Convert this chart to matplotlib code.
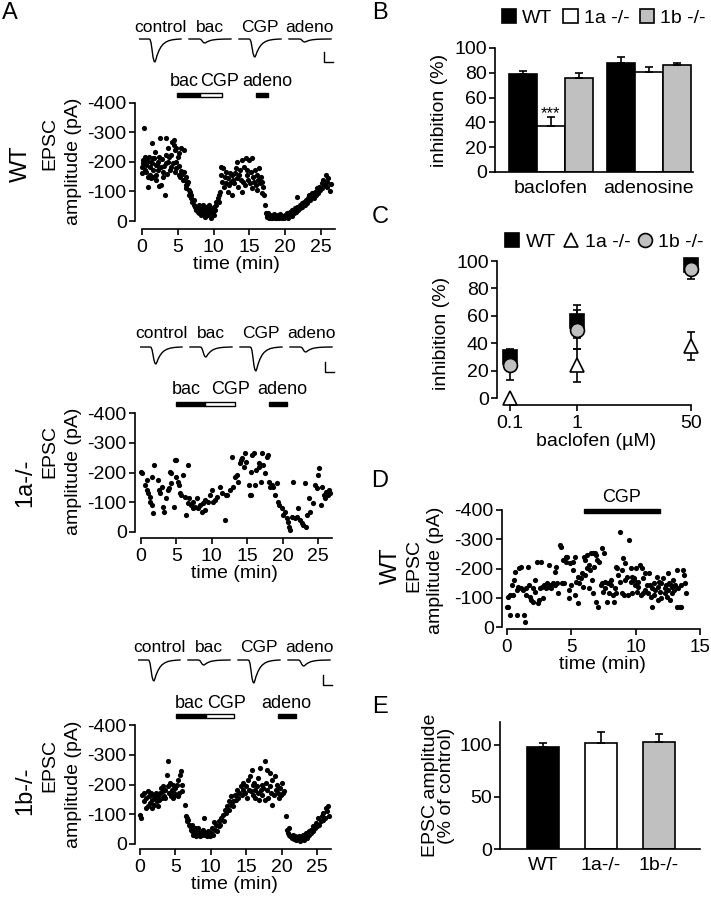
import numpy as np
import matplotlib
matplotlib.use('Agg')
import matplotlib.pyplot as plt
from matplotlib.patches import Rectangle, Patch
from matplotlib.lines import Line2D

plt.rcParams['font.family'] = ['Liberation Sans', 'DejaVu Sans']
plt.rcParams['font.size'] = 14
plt.rcParams['axes.unicode_minus'] = False

W, H = 711, 899
FS = 14

# ---------------- data ----------------
# panel A, WT time course (time in min, EPSC amplitude in pA, inward)
wt_points = [
    (0.0, 184), (0.05, 162), (0.15, 195), (0.2, 207), (0.3, 314), (0.4, 218), (0.4, 173),
    (0.5, 190), (0.6, 165), (0.65, 201), (0.75, 205), (0.8, 150), (0.9, 116), (1.0, 218),
    (1.1, 184), (1.1, 156), (1.2, 200), (1.3, 145), (1.35, 263), (1.4, 195), (1.5, 215),
    (1.55, 150), (1.6, 173), (1.7, 212), (1.8, 235), (1.9, 190), (1.95, 140), (2.0, 156),
    (2.1, 190), (2.2, 173), (2.3, 201), (2.35, 120), (2.4, 218), (2.5, 280), (2.65, 184),
    (2.7, 122), (2.8, 210), (2.9, 165), (3.0, 150), (3.1, 185), (3.2, 88), (3.3, 195),
    (3.4, 280), (3.4, 224), (3.5, 160), (3.6, 201), (3.7, 246), (3.75, 218), (3.9, 173),
    (4.0, 184), (4.1, 224), (4.2, 269), (4.3, 195), (4.4, 275), (4.5, 258), (4.6, 241),
    (4.6, 167), (4.7, 200), (4.8, 246), (4.8, 179), (5.0, 218), (5.1, 229), (5.1, 156),
    (5.2, 185), (5.3, 150), (5.4, 170), (5.5, 246), (5.6, 160), (5.7, 140), (5.8, 241),
    (5.9, 167), (6.0, 139), (6.1, 122), (6.2, 111), (6.2, 150), (6.3, 125), (6.4, 131),
    (6.5, 105), (6.6, 88), (6.7, 99), (6.8, 77), (6.9, 88), (7.0, 66), (7.2, 71), (7.3, 54),
    (7.4, 49), (7.5, 37), (7.6, 43), (7.8, 32), (7.9, 54), (8.0, 26), (8.1, 43), (8.2, 20),
    (8.3, 37), (8.5, 54), (8.6, 26), (8.7, 43), (8.8, 15), (8.9, 32), (9.0, 49), (9.2, 20),
    (9.3, 37), (9.4, 54), (9.5, 26), (9.6, 43), (9.7, 9), (9.9, 32), (10.0, 20), (10.1, 49),
    (10.2, 37), (10.3, 66), (10.4, 54), (10.6, 77), (10.7, 66), (10.75, 88), (10.9, 99),
    (11.0, 156), (11.1, 184), (11.2, 133), (11.3, 179), (11.5, 116), (11.6, 150), (11.7, 128),
    (11.8, 167), (12.0, 99), (12.0, 145), (12.2, 122), (12.3, 162), (12.4, 133), (12.5, 88),
    (12.6, 156), (12.7, 139), (12.9, 128), (13.0, 162), (13.1, 179), (13.2, 145), (13.3, 201),
    (13.4, 116), (13.5, 156), (13.7, 173), (13.8, 139), (13.9, 207), (14.0, 99), (14.1, 133),
    (14.3, 184), (14.4, 122), (14.5, 212), (14.6, 156), (14.7, 173), (14.8, 139), (14.9, 207),
    (15.1, 128), (15.2, 167), (15.3, 212), (15.4, 111), (15.5, 150), (15.7, 133), (15.8, 173),
    (15.9, 122), (16.0, 156), (16.1, 105), (16.2, 139), (16.3, 179), (16.5, 128), (16.6, 150),
    (16.7, 94), (16.8, 133), (16.9, 116), (17.1, 88), (17.2, 54), (17.3, 26), (17.4, 20),
    (17.5, 15), (17.6, 26), (17.8, 11), (17.9, 20), (18.0, 9), (18.1, 18), (18.2, 11),
    (18.4, 23), (18.6, 9), (18.7, 18), (18.8, 11), (19.0, 20), (19.2, 9), (19.3, 23),
    (19.5, 11), (19.6, 18), (19.8, 9), (20.0, 20), (20.1, 15), (20.2, 26), (20.4, 11),
    (20.6, 23), (20.7, 32), (20.9, 18), (21.0, 37), (21.2, 26), (21.3, 43), (21.5, 32),
    (21.6, 82), (21.7, 49), (21.8, 37), (22.0, 54), (22.1, 43), (22.3, 60), (22.4, 49),
    (22.6, 66), (22.7, 54), (22.9, 71), (23.0, 60), (23.2, 77), (23.3, 88), (23.5, 71),
    (23.7, 82), (23.8, 94), (24.0, 77), (24.1, 99), (24.3, 88), (24.4, 111), (24.6, 94),
    (24.7, 116), (24.9, 105), (25.1, 128), (25.2, 111), (25.3, 139), (25.5, 122), (25.7, 156),
    (25.8, 133), (25.9, 116), (26.0, 145), (26.2, 100), (26.4, 125),
]

# panel A, 1a-/- time course
ko1a_points = [
    (0.0, 203), (0.1, 197), (0.6, 158), (0.8, 175), (0.9, 141), (1.0, 130), (1.3, 119),
    (1.3, 102), (1.5, 91), (1.5, 186), (1.7, 63), (1.9, 225), (2.4, 175), (2.5, 141),
    (2.7, 130), (2.9, 152), (3.1, 85), (3.3, 68), (3.6, 113), (3.8, 141), (3.9, 147),
    (4.1, 203), (4.2, 164), (4.3, 197), (4.6, 85), (4.8, 242), (5.0, 242), (4.9, 186),
    (5.2, 169), (5.4, 158), (5.5, 130), (5.7, 124), (6.0, 192), (6.7, 225), (6.2, 119),
    (6.4, 57), (6.6, 96), (6.8, 113), (7.1, 91), (7.3, 102), (7.4, 80), (7.6, 85), (7.9, 113),
    (8.1, 80), (8.3, 91), (8.6, 68), (8.8, 96), (9.0, 74), (9.1, 108), (9.4, 102), (9.7, 124),
    (10.0, 141), (10.2, 102), (10.5, 108), (10.7, 119), (11.2, 152), (11.5, 130), (11.9, 40),
    (12.0, 124), (12.2, 124), (12.6, 141), (12.8, 253), (13.0, 152), (13.3, 186), (13.5, 192),
    (13.7, 169), (14.0, 231), (14.1, 242), (14.3, 248), (14.5, 220), (14.7, 264), (14.8, 236),
    (15.2, 158), (15.4, 124), (15.6, 124), (15.5, 203), (15.7, 259), (15.9, 264), (16.1, 158),
    (16.3, 209), (16.6, 231), (16.7, 220), (16.9, 169), (17.1, 264), (17.3, 225), (17.5, 197),
    (17.8, 253), (17.9, 259), (18.1, 169), (18.2, 152), (18.5, 158), (18.7, 152), (18.9, 124),
    (19.2, 164), (19.4, 102), (19.5, 91), (19.9, 80), (20.1, 57), (20.3, 68), (20.6, 46),
    (20.8, 35), (20.9, 18), (21.0, 7), (21.3, 52), (21.4, 169), (21.7, 46), (22.0, 52),
    (22.2, 80), (22.5, 40), (22.7, 29), (22.9, 24), (23.2, 164), (23.3, 18), (23.5, 57),
    (23.7, 113), (23.9, 68), (24.3, 96), (24.6, 158), (24.8, 147), (25.0, 192), (25.1, 214),
    (25.4, 91), (25.6, 152), (25.8, 124), (26.0, 113), (26.2, 136), (26.4, 124), (26.5, 141),
    (26.7, 130),
]

# panel A, 1b-/- time course
ko1b_points = [
    (0.0, 99), (0.15, 87), (0.3, 166), (0.5, 143), (0.6, 171), (0.8, 121), (0.9, 155),
    (1.1, 177), (1.2, 127), (1.3, 160), (1.4, 138), (1.55, 171), (1.65, 149), (1.75, 121),
    (1.9, 166), (2.0, 132), (2.1, 155), (2.2, 171), (2.35, 143), (2.5, 160), (2.6, 127),
    (2.7, 149), (2.8, 171), (3.0, 188), (3.1, 155), (3.2, 177), (3.3, 194), (3.4, 160),
    (3.5, 182), (3.6, 155), (3.8, 233), (3.9, 278), (4.0, 194), (4.1, 171), (4.2, 205),
    (4.4, 160), (4.5, 182), (4.6, 155), (4.7, 199), (4.8, 171), (4.9, 166), (5.0, 188),
    (5.2, 199), (5.3, 160), (5.4, 216), (5.5, 171), (5.6, 233), (5.8, 244), (5.9, 199),
    (6.0, 177), (6.3, 132), (6.45, 93), (6.6, 87), (6.7, 76), (6.8, 82), (6.9, 65), (7.1, 59),
    (7.2, 48), (7.3, 65), (7.4, 43), (7.5, 31), (7.7, 54), (7.8, 37), (7.9, 26), (8.0, 43),
    (8.1, 31), (8.2, 54), (8.4, 37), (8.5, 26), (8.7, 43), (8.8, 31), (8.9, 48), (9.1, 87),
    (9.2, 31), (9.3, 37), (9.5, 26), (9.6, 43), (9.7, 31), (9.9, 26), (10.0, 37), (10.2, 54),
    (10.3, 31), (10.45, 74), (10.6, 48), (10.7, 65), (10.9, 43), (11.1, 59), (11.2, 76),
    (11.3, 65), (11.5, 87), (11.7, 99), (11.8, 76), (12.0, 115), (12.1, 104), (12.3, 127),
    (12.5, 115), (12.6, 143), (12.8, 132), (12.9, 160), (13.1, 143), (13.2, 127), (13.4, 166),
    (13.6, 149), (13.7, 182), (13.9, 155), (14.0, 171), (14.2, 194), (14.4, 166), (14.5, 182),
    (14.6, 205), (14.8, 171), (15.0, 194), (15.1, 155), (15.3, 216), (15.4, 182), (15.5, 227),
    (15.7, 177), (15.8, 250), (15.9, 199), (16.0, 166), (16.1, 205), (16.2, 182), (16.3, 155),
    (16.5, 194), (16.6, 171), (16.7, 222), (16.8, 149), (16.95, 255), (17.1, 182), (17.2, 199),
    (17.3, 166), (17.4, 188), (17.6, 149), (17.7, 278), (17.8, 205), (17.9, 182), (18.0, 250),
    (18.1, 155), (18.3, 239), (18.4, 194), (18.5, 171), (18.6, 132), (18.7, 216), (18.9, 166),
    (19.1, 227), (19.2, 182), (19.35, 199), (19.5, 171), (19.6, 155), (19.8, 188), (19.9, 166),
    (20.0, 205), (20.15, 171), (20.3, 177), (20.6, 93), (20.7, 48), (20.85, 37), (21.0, 54),
    (21.1, 31), (21.2, 26), (21.4, 20), (21.6, 29), (21.7, 18), (21.9, 26), (22.0, 15),
    (22.2, 22), (22.4, 18), (22.5, 26), (22.6, 11), (22.8, 20), (23.0, 31), (23.1, 15),
    (23.3, 26), (23.4, 37), (23.6, 20), (23.8, 43), (23.9, 29), (24.1, 48), (24.2, 37),
    (24.4, 59), (24.5, 43), (24.7, 54), (24.9, 71), (25.0, 59), (25.2, 87), (25.3, 65),
    (25.5, 76), (25.7, 93), (25.8, 82), (25.9, 104), (26.1, 87), (26.3, 121), (26.4, 110),
    (26.6, 127), (26.7, 93),
]

# panel D, WT time course with CGP only
d_points = [
    (0.0, 70), (0.1, 70), (0.1, 104), (0.2, 109), (0.25, 41), (0.35, 144), (0.5, 109),
    (0.55, 161), (0.6, 189), (0.75, 41), (0.8, 126), (0.85, 138), (0.95, 201), (1.05, 132),
    (1.1, 206), (1.25, 126), (1.3, 41), (1.4, 18), (1.45, 132), (1.5, 109), (1.65, 206),
    (1.7, 144), (1.75, 104), (1.9, 92), (2.0, 132), (2.05, 87), (2.15, 161), (2.2, 121),
    (2.35, 223), (2.4, 81), (2.5, 92), (2.55, 132), (2.65, 223), (2.75, 138), (2.8, 98),
    (2.9, 144), (3.05, 132), (3.1, 149), (3.25, 212), (3.3, 138), (3.35, 144), (3.45, 132),
    (3.55, 149), (3.7, 189), (3.75, 144), (3.8, 206), (3.85, 149), (4.0, 115), (4.1, 280),
    (4.2, 275), (4.3, 149), (4.35, 229), (4.45, 149), (4.55, 240), (4.6, 223), (4.7, 240),
    (4.8, 126), (4.85, 98), (4.9, 218), (4.95, 144), (5.1, 223), (5.15, 195), (5.25, 240),
    (5.3, 109), (5.35, 155), (5.5, 172), (5.55, 81), (5.6, 149), (5.75, 166), (5.8, 183),
    (5.9, 138), (6.0, 240), (6.05, 178), (6.1, 229), (6.2, 201), (6.25, 246), (6.35, 212),
    (6.4, 132), (6.45, 195), (6.5, 252), (6.6, 161), (6.65, 252), (6.7, 115), (6.75, 206),
    (6.85, 252), (6.9, 246), (6.95, 87), (7.0, 229), (7.1, 70), (7.15, 223), (7.3, 144),
    (7.35, 149), (7.4, 269), (7.45, 121), (7.55, 252), (7.6, 132), (7.65, 155), (7.8, 87),
    (7.85, 149), (7.9, 115), (8.05, 144), (8.1, 161), (8.2, 109), (8.3, 87), (8.4, 132),
    (8.45, 206), (8.5, 115), (8.55, 201), (8.65, 178), (8.75, 155), (8.8, 326), (8.9, 195),
    (8.95, 115), (9.0, 235), (9.1, 109), (9.15, 161), (9.2, 218), (9.35, 172), (9.4, 109),
    (9.5, 297), (9.6, 155), (9.65, 201), (9.7, 172), (9.75, 115), (9.85, 161), (9.9, 166),
    (9.95, 144), (10.0, 201), (10.1, 121), (10.15, 155), (10.2, 138), (10.35, 212),
    (10.45, 109), (10.5, 201), (10.55, 166), (10.6, 115), (10.7, 183), (10.75, 126),
    (10.85, 144), (10.95, 115), (11.0, 183), (11.1, 144), (11.2, 104), (11.25, 70),
    (11.3, 132), (11.4, 109), (11.45, 149), (11.5, 126), (11.65, 172), (11.7, 92),
    (11.75, 138), (11.8, 155), (11.9, 121), (11.95, 98), (12.0, 149), (12.15, 166),
    (12.25, 132), (12.3, 115), (12.35, 144), (12.4, 104), (12.5, 183), (12.55, 126),
    (12.6, 149), (12.65, 92), (12.75, 144), (12.8, 115), (12.85, 138), (12.9, 161),
    (13.0, 126), (13.05, 144), (13.2, 195), (13.25, 70), (13.3, 132), (13.45, 70),
    (13.5, 70), (13.55, 144), (13.7, 195), (13.75, 178), (13.8, 149), (13.95, 115),
]

# drug application bars (start, end, filled) and labels (text, centre time)
wt_drugs = [(4.9, 8.1, True), (8.1, 11.2, False), (15.9, 17.6, True)]
wt_drug_labels = [('bac', 5.9), ('CGP', 10.8), ('adeno', 17.5)]
ko1a_drugs = [(4.9, 9.0, True), (9.0, 13.3, False), (18.1, 20.6, True)]
ko1a_drug_labels = [('bac', 6.4), ('CGP', 12.7), ('adeno', 19.9)]
ko1b_drugs = [(5.1, 9.3, True), (9.3, 13.3, False), (19.5, 22.0, True)]
ko1b_drug_labels = [('bac', 6.9), ('CGP', 12.2), ('adeno', 20.7)]
d_drugs = [(6.0, 11.9, True)]
d_drug_labels = [('CGP', 8.9)]

# example EPSC traces (ms, normalised shape) and peak amplitudes (pA)
trace_names = ['control', 'bac', 'CGP', 'adeno']
trace_time = [0, 10, 11, 12, 13, 14, 15, 16, 17, 18, 20, 22, 24, 27, 30, 34, 38, 42]
trace_shape = [0, 0, -0.02, -0.15, -0.45, -0.78, -0.96, -1.0, -0.88, -0.72, -0.5,
               -0.34, -0.23, -0.13, -0.07, -0.03, -0.01, 0]
wt_trace_amp = [230, 40, 180, 30]
ko1a_trace_amp = [170, 100, 240, 50]
ko1b_trace_amp = [210, 50, 230, 60]
scale_ms, scale_pa = 9, 100

# panel B
b_groups = ['baclofen', 'adenosine']
b_genotypes = ['WT', '1a -/-', '1b -/-']
b_means = {'WT': [79, 88], '1a -/-': [37, 81], '1b -/-': [76, 86]}
b_sem = {'WT': [2.5, 4.5], '1a -/-': [7, 4], '1b -/-': [3.5, 2]}

# panel C
c_conc = [0.1, 1, 50]
c_means = {'WT': [30, 56, 97], '1a -/-': [0, 24, 38], '1b -/-': [24, 50, 94]}
c_sem = {'WT': [6, 12, 4], '1a -/-': [0, 12, 10], '1b -/-': [11, 14, 7]}

# panel E
e_labels = ['WT', '1a-/-', '1b-/-']
e_means = [98, 102, 103]
e_sem = [4, 10, 7]

colors = {'WT': 'black', '1a -/-': 'white', '1b -/-': '#c0c0c0'}

fig = plt.figure(figsize=(W / 100, H / 100), dpi=100)


def px_axes(left, top, right, bottom):
    return fig.add_axes([left / W, 1 - bottom / H, (right - left) / W, (bottom - top) / H])


def style(ax):
    for s in ['top', 'right']:
        ax.spines[s].set_visible(False)
    for s in ['left', 'bottom']:
        ax.spines[s].set_linewidth(1.2)
    ax.tick_params(direction='out', length=4, width=1.2, labelsize=FS, pad=2)


def fig_text(x, y, s, **kw):
    fig.text(x / W, 1 - y / H, s, ha='center', va='center', **kw)


def time_course(geo, points, drugs, drug_labels, xticks, xend):
    t, amp = np.array(points).T
    ppm = (geo['xr'] - geo['x0']) / geo['xr_val']
    ppa = (geo['y0'] - geo['y400']) / 400.0
    right_val = xend + 0.3
    ax = px_axes(geo['spine'], geo['y400'], geo['x0'] + right_val * ppm, geo['xaxis'])
    ax.scatter(t, -amp, s=14, c='black', linewidths=0, clip_on=False)
    ax.set_xlim((geo['spine'] - geo['x0']) / ppm, right_val)
    ax.set_ylim((geo['xaxis'] - geo['y0']) / ppa, -400)
    style(ax)
    ax.tick_params(axis='x', pad=3)
    ax.spines['left'].set_bounds(-400, 0)
    ax.spines['bottom'].set_bounds(0, xend)
    ax.set_yticks([-400, -300, -200, -100, 0])
    ax.set_yticklabels(['-400', '-300', '-200', '-100', '0'])
    ax.set_xticks(xticks)
    ax.set_xlabel('time (min)', fontsize=FS, labelpad=0)
    bar_val = -(geo['y0'] - geo['bar']) / ppa
    bar_h = 4.5 / ppa
    for start, end, filled in drugs:
        ax.add_patch(Rectangle((start, bar_val - bar_h / 2), end - start, bar_h,
                               facecolor='black' if filled else 'white',
                               edgecolor='black', lw=1, clip_on=False))
    lab_val = -(geo['y0'] - geo['lab']) / ppa
    for name, x in drug_labels:
        ax.text(x, lab_val, name, ha='center', va='center', fontsize=13, clip_on=False)
    return ax


def traces(base, left, label_y, amps, sb_top):
    tax = px_axes(left, base - 19, left + 200, base + 31)
    tax.set_xlim(0, 200)
    tax.set_ylim(-310, 190)
    tax.axis('off')
    for i, (name, a) in enumerate(zip(trace_names, amps)):
        tax.plot(np.array(trace_time) + 50 * i, a * np.array(trace_shape), color='black', lw=1)
        tax.text(21 + 50 * i, (base - label_y) * 10, name, ha='center', va='center', fontsize=12.5)
    y_top = -(sb_top - base) * 10
    tax.plot([185, 185, 185 + scale_ms], [y_top, y_top - scale_pa, y_top - scale_pa],
             color='black', lw=1, solid_joinstyle='miter')


# ---------------- panel A ----------------
wt_geo = dict(spine=135, x0=142, xr=321, xr_val=25, y400=103, y0=221, xaxis=229, bar=95, lab=82)
ko1a_geo = dict(spine=135, x0=141, xr=318, xr_val=25, y400=413, y0=532, xaxis=538, bar=404, lab=390)
ko1b_geo = dict(spine=135, x0=140, xr=317, xr_val=25, y400=725, y0=844, xaxis=849, bar=716, lab=703)
a_ticks = [0, 5, 10, 15, 20, 25]
time_course(wt_geo, wt_points, wt_drugs, wt_drug_labels, a_ticks, 27)
time_course(ko1a_geo, ko1a_points, ko1a_drugs, ko1a_drug_labels, a_ticks, 27)
time_course(ko1b_geo, ko1b_points, ko1b_drugs, ko1b_drug_labels, a_ticks, 27)
traces(39, 139, 27, wt_trace_amp, 52)
traces(347, 140, 333, ko1a_trace_amp, 362)
traces(660, 138, 648, ko1b_trace_amp, 675)

for x, y, s, fs in [(21, 164, 'WT', 17), (50, 143, 'EPSC', FS), (73, 161, 'amplitude (pA)', FS),
                    (25, 483, '1a-/-', 17), (50, 452, 'EPSC', FS), (73, 471, 'amplitude (pA)', FS),
                    (25, 791, '1b-/-', 17), (50, 766, 'EPSC', FS), (73, 784, 'amplitude (pA)', FS)]:
    fig_text(x, y, s, rotation=90, fontsize=fs)

# ---------------- panel B ----------------
axB = px_axes(495, 48, 693, 172)
w = 0.286
xg = np.arange(len(b_groups))
for i, g in enumerate(b_genotypes):
    axB.bar(xg + (i - 1) * w, b_means[g], w, color=colors[g], edgecolor='black', lw=1.2,
            yerr=[np.zeros(len(b_groups)), b_sem[g]], capsize=3,
            error_kw=dict(elinewidth=1.2, capthick=1.2))
axB.set_xlim(-0.57, 1.45)
axB.set_ylim(0, 100)
style(axB)
axB.set_yticks([0, 20, 40, 60, 80, 100])
axB.set_xticks(xg)
axB.set_xticklabels(b_groups)
axB.tick_params(axis='x', length=0, pad=6)
axB.set_ylabel('inhibition (%)', fontsize=FS, labelpad=4)
axB.text(0, b_means['1a -/-'][0] + b_sem['1a -/-'][0] + 3, '***', ha='center', va='center', fontsize=12)
hB = [Patch(facecolor=colors[g], edgecolor='black', lw=1.2) for g in b_genotypes]
axB.legend(hB, b_genotypes, ncol=3, frameon=False, loc='center left',
           bbox_to_anchor=(492 / W, 1 - 18 / H), bbox_transform=fig.transFigure,
           borderpad=0, handlelength=0.75, handleheight=0.75, handletextpad=0.3,
           columnspacing=0.55, fontsize=FS)

# ---------------- panel C ----------------
axC = px_axes(497, 261, 695, 405)
markers = {'WT': ('s', 'black'), '1a -/-': ('^', 'white'), '1b -/-': ('o', '#c0c0c0')}
hC = []
for g in b_genotypes:
    m, fc = markers[g]
    axC.errorbar(c_conc, c_means[g], yerr=c_sem[g], fmt=m, ms=10, mfc=fc, mec='black', mew=1.2,
                 ecolor='black', elinewidth=1.2, capsize=3, capthick=1.2, clip_on=False)
    hC.append(Line2D([], [], ls='', marker=m, ms=10, mfc=fc, mec='black', mew=1.2))
axC.set_xscale('log')
axC.set_xlim(0.064, 57)
axC.set_ylim(-5.1, 100)
style(axC)
axC.spines['left'].set_bounds(0, 100)
axC.spines['bottom'].set_bounds(0.1, 50)
axC.set_xticks(c_conc)
axC.set_xticklabels(['0.1', '1', '50'])
axC.minorticks_off()
axC.tick_params(axis='x', pad=3)
axC.set_yticks([0, 20, 40, 60, 80, 100])
axC.set_xlabel('baclofen (\u00b5M)', fontsize=FS, labelpad=1)
axC.set_ylabel('inhibition (%)', fontsize=FS, labelpad=4)
axC.legend(hC, b_genotypes, ncol=3, frameon=False, loc='center left',
           bbox_to_anchor=(494 / W, 1 - 242 / H), bbox_transform=fig.transFigure,
           borderpad=0, handlelength=0.9, handletextpad=0.25, columnspacing=0.3, fontsize=FS)

# ---------------- panel D ----------------
d_geo = dict(spine=502, x0=507, xr=700, xr_val=15, y400=510, y0=627, xaxis=629, bar=511, lab=498)
axD = time_course(d_geo, d_points, d_drugs, d_drug_labels, [0, 5, 10, 15], 15)
axD.tick_params(axis='x', labelsize=13.5)
for x, y, s, fs in [(391, 566, 'WT', 17), (414, 566, 'EPSC', FS), (435, 570, 'amplitude (pA)', FS)]:
    fig_text(x, y, s, rotation=90, fontsize=fs)

# ---------------- panel E ----------------
axE = px_axes(500, 722, 700, 849)
xe = np.arange(len(e_labels))
axE.bar(xe, e_means, 0.55, color=[colors['WT'], colors['1a -/-'], colors['1b -/-']],
        edgecolor='black', lw=1.2, yerr=[np.zeros(len(e_means)), e_sem], capsize=3,
        error_kw=dict(elinewidth=1.2, capthick=1.2))
axE.set_xlim(-0.74, 2.71)
axE.set_ylim(0, 122)
style(axE)
axE.set_yticks([0, 50, 100])
axE.set_xticks(xe)
axE.set_xticklabels(e_labels)
axE.tick_params(axis='x', length=0, pad=6)
axE.set_ylabel('EPSC amplitude\n(% of control)', fontsize=FS, labelpad=3, linespacing=0.95)

# panel letters
for x, y, s in [(10, 13, 'A'), (380, 13, 'B'), (380, 217, 'C'), (380, 481, 'D'), (380, 707, 'E')]:
    fig_text(x, y, s, fontsize=17)

fig.savefig('out.png', dpi=100)
